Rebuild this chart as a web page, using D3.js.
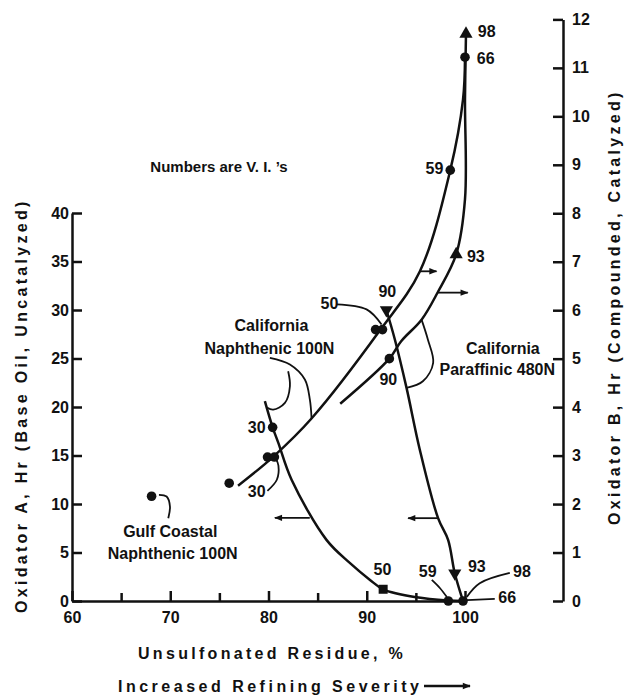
<!DOCTYPE html>
<html>
<head>
<meta charset="utf-8">
<script src="https://cdn.jsdelivr.net/npm/d3@7"></script>
<style>
body{margin:0;background:#fff;}
text{font-family:"Liberation Sans",Arial,sans-serif;font-weight:bold;fill:#111;}
.ax text{font-family:"Liberation Sans",Arial,sans-serif;font-size:16px;font-weight:bold;fill:#111;}
.ax path,.ax line{stroke:#111;stroke-width:2.5;}
</style>
</head>
<body>
<script>
// ticks
var xTicks=[60,70,80,90,100];
var xMinor=[65,75,85,95];
var leftTicks=[0,5,10,15,20,25,30,35,40];
var rightTicks=[0,1,2,3,4,5,6,7,8,9,10,11,12];

// curves: [unsulfonated residue %, hours]
// Oxidator B (right axis)
var naphB=[[76.9,2.38],[80.5,2.98],[84.4,3.77],[91.4,5.6],[95.4,6.8],[98.5,8.89],[99.8,10.35],[100,11.22]];
var paraB=[[87.3,4.07],[92.3,5.0],[93.5,5.36],[95.6,5.81],[97.2,6.36],[99.1,7.15],[100,8.29],[100,10.35],[100.1,11.7]];
// Oxidator A (left axis)
var naphA=[[79.63,20.6],[80.42,17.9],[81.0,16.3],[82.35,12.5],[85.9,6.3],[88.3,3.9],[90.3,2.2],[91.67,1.21],[95.07,0.38],[98.3,0.05],[99.8,0]];
var paraA=[[92.0,30.0],[92.86,26.96],[94.05,21.97],[95.4,15.6],[97.26,8.54],[98.28,6.3],[98.96,2.86],[99.8,0]];

// measured points
var naphBDots=[[76.0,2.43],[79.9,2.97],[80.6,2.97],[90.9,5.6],[91.6,5.6],[98.5,8.89],[100,11.22]];
var paraBDots=[[92.3,5.0]];
var paraBTri=[[99.1,7.15],[100.1,11.7]];
var naphADots=[[80.42,17.9],[98.3,0],[99.8,0]];
var naphASquare=[[91.67,1.21]];
var paraATri=[[92.0,30.0],[98.96,2.86]];
var gulfDots=[[68.1,10.8]];

// labels, placed in (residue %, left-axis hours)
var labels=[
  {t:'98',x:101.3,y:58.1,a:'start'},
  {t:'66',x:101.2,y:55.4,a:'start'},
  {t:'59',x:97.8,y:44.0,a:'end'},
  {t:'93',x:100.2,y:35.0,a:'start'},
  {t:'90',x:92.1,y:31.3,a:'middle'},
  {t:'50',x:86.2,y:30.1,a:'middle'},
  {t:'90',x:92.2,y:22.3,a:'middle'},
  {t:'California',x:80.3,y:27.8,a:'middle'},
  {t:'Naphthenic 100N',x:80.1,y:25.5,a:'middle'},
  {t:'30',x:78.8,y:17.3,a:'middle'},
  {t:'30',x:78.8,y:10.7,a:'middle'},
  {t:'Gulf Coastal',x:70.0,y:6.6,a:'middle'},
  {t:'Naphthenic 100N',x:70.25,y:4.3,a:'middle'},
  {t:'California',x:100.1,y:25.5,a:'start'},
  {t:'Paraffinic 480N',x:97.4,y:23.3,a:'start'},
  {t:'50',x:91.6,y:2.7,a:'middle'},
  {t:'59',x:96.2,y:2.5,a:'middle'},
  {t:'93',x:101.2,y:3.0,a:'middle'},
  {t:'98',x:105.8,y:2.5,a:'middle'},
  {t:'66',x:104.3,y:-0.2,a:'middle'}
];

// leader lines and brace (residue %, left-axis hours)
var leaders=[
  [[95.57,29.03],[96.22,26.96],[96.76,24.56],[95.71,22.65],[94.05,21.97]],
  [[80.14,25.07],[82.18,24.38],[83.7,22.83],[84.21,20.76],[84.38,18.87]],
  [[82.0,23.69],[82.18,22.14],[81.67,20.42],[80.48,19.73],[79.84,19.94]],
  [[79.89,11.36],[80.85,12.5],[81.01,13.95],[80.75,14.67]],
  [[86.93,30.58],[89.98,30.06],[91.51,28.51]],
  [[68.85,10.95],[69.63,10.77],[69.97,9.74],[69.8,8.54]],
  [[96.62,2.17],[97.44,1.34],[98.15,0.41]],
  [[104.56,2.89],[101.5,1.83],[100.18,0.41]],
  [[103.03,0.21],[100.18,0.1]]
];

// direction arrows: which axis a curve is read on
var arrows=[
  [[95.4,33.99],[97.1,33.99]],
  [[97.26,31.79],[100.28,31.79]],
  [[84.2,8.57],[80.65,8.57]],
  [[97.26,8.54],[94.21,8.54]]
];

var svg=d3.select('body').append('svg').attr('width',629).attr('height',695);

var x=d3.scaleLinear().domain([60,100]).range([72,465]);
var yL=d3.scaleLinear().domain([0,40]).range([601,213]);
var yR=d3.scaleLinear().domain([0,12]).range([601,19.4]);

svg.append('defs').append('marker')
  .attr('id','head').attr('viewBox','0 0 10 10').attr('refX',9).attr('refY',5)
  .attr('markerWidth',9).attr('markerHeight',8).attr('markerUnits','userSpaceOnUse')
  .attr('orient','auto')
  .append('path').attr('d','M0,1L10,5L0,9Z').attr('fill','#111');

// axes
svg.append('g').attr('class','ax').attr('transform','translate(0,601)')
  .call(d3.axisBottom(x).tickValues(xTicks).tickSize(-10).tickSizeOuter(0).tickPadding(11).tickFormat(d3.format('d')));
svg.append('g').attr('class','ax').attr('transform','translate(0,601)')
  .call(d3.axisBottom(x).tickValues(xMinor).tickSize(-8).tickSizeOuter(0).tickFormat(''))
  .select('.domain').remove();
svg.append('g').attr('class','ax').attr('transform','translate(72,0)')
  .call(d3.axisLeft(yL).tickValues(leftTicks).tickSize(-10).tickSizeOuter(0).tickPadding(3));
svg.append('g').attr('class','ax').attr('transform','translate(563,0)')
  .call(d3.axisRight(yR).tickValues(rightTicks).tickSize(-10).tickSizeOuter(0).tickPadding(9));

// axis titles and note
svg.append('text').attr('x',219).attr('y',172).attr('font-size',15).attr('text-anchor','middle')
  .text('Numbers are V. I. \u2019s');
svg.append('text').attr('x',138).attr('y',659).attr('font-size',16).attr('letter-spacing',3.3)
  .text('Unsulfonated Residue, %');
svg.append('text').attr('x',118).attr('y',692).attr('font-size',16).attr('letter-spacing',3.5)
  .text('Increased Refining Severity');
svg.append('line').attr('x1',424).attr('x2',470).attr('y1',686).attr('y2',686)
  .attr('stroke','#111').attr('stroke-width',2.5).attr('marker-end','url(#head)');
svg.append('text').attr('transform','translate(27,613) rotate(-90)').attr('font-size',16).attr('letter-spacing',3.3)
  .text('Oxidator A, Hr (Base Oil, Uncatalyzed)');
svg.append('text').attr('transform','translate(620,525) rotate(-90)').attr('font-size',16).attr('letter-spacing',3.3)
  .text('Oxidator B, Hr (Compounded, Catalyzed)');

// curves
var lineR=d3.line().x(function(d){return x(d[0]);}).y(function(d){return yR(d[1]);}).curve(d3.curveCatmullRom.alpha(0.5));
var lineL=d3.line().x(function(d){return x(d[0]);}).y(function(d){return yL(d[1]);}).curve(d3.curveCatmullRom.alpha(0.5));

svg.selectAll('path.curveR').data([naphB,paraB]).enter().append('path')
  .attr('class','curveR').attr('d',lineR).attr('fill','none').attr('stroke','#111').attr('stroke-width',2.5);
svg.selectAll('path.curveL').data([naphA,paraA]).enter().append('path')
  .attr('class','curveL').attr('d',lineL).attr('fill','none').attr('stroke','#111').attr('stroke-width',2.5);

// leaders
svg.selectAll('path.lead').data(leaders).enter().append('path')
  .attr('class','lead').attr('d',lineL).attr('fill','none').attr('stroke','#111').attr('stroke-width',1.8);

// arrows
svg.selectAll('line.arr').data(arrows).enter().append('line')
  .attr('class','arr')
  .attr('x1',function(d){return x(d[0][0]);}).attr('y1',function(d){return yL(d[0][1]);})
  .attr('x2',function(d){return x(d[1][0]);}).attr('y2',function(d){return yL(d[1][1]);})
  .attr('stroke','#111').attr('stroke-width',1.8).attr('marker-end','url(#head)');

// markers
svg.selectAll('circle.nb').data(naphBDots.concat(paraBDots)).enter().append('circle')
  .attr('class','nb').attr('cx',function(d){return x(d[0]);}).attr('cy',function(d){return yR(d[1]);})
  .attr('r',4.8).attr('fill','#111');
svg.selectAll('circle.na').data(naphADots.concat(gulfDots)).enter().append('circle')
  .attr('class','na').attr('cx',function(d){return x(d[0]);}).attr('cy',function(d){return yL(d[1]);})
  .attr('r',4.8).attr('fill','#111');
svg.selectAll('rect.sq').data(naphASquare).enter().append('rect')
  .attr('class','sq').attr('x',function(d){return x(d[0])-4.5;}).attr('y',function(d){return yL(d[1])-4.5;})
  .attr('width',9).attr('height',9).attr('fill','#111');
var tri=d3.symbol().type(d3.symbolTriangle).size(75);
svg.selectAll('path.up').data(paraBTri).enter().append('path')
  .attr('class','up').attr('d',tri)
  .attr('transform',function(d){return 'translate('+x(d[0])+','+yR(d[1])+')';}).attr('fill','#111');
svg.selectAll('path.dn').data(paraATri).enter().append('path')
  .attr('class','dn').attr('d',tri)
  .attr('transform',function(d){return 'translate('+x(d[0])+','+yL(d[1])+') rotate(180)';}).attr('fill','#111');

// labels
svg.selectAll('text.lab').data(labels).enter().append('text')
  .attr('class','lab').attr('x',function(d){return x(d.x);}).attr('y',function(d){return yL(d.y);})
  .attr('text-anchor',function(d){return d.a;}).attr('font-size',16)
  .text(function(d){return d.t;});
</script>
</body>
</html>
